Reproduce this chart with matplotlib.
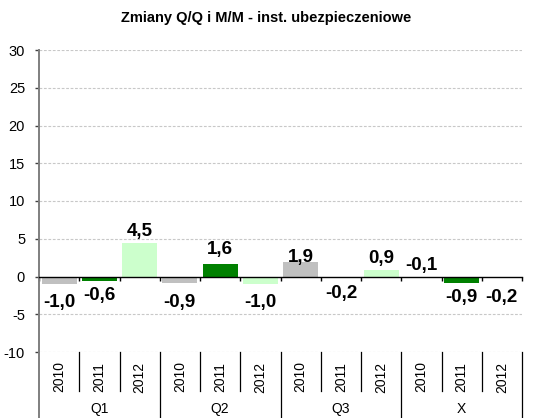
import numpy as np
import matplotlib
matplotlib.use('Agg')
import matplotlib.pyplot as plt
from matplotlib.lines import Line2D

#
#--- chart data
#
groups  = ['Q1', 'Q2', 'Q3', 'X']
years   = ['2010', '2011', '2012']

v2010   = [-1.0, -0.9,  1.9, -0.1]
v2011   = [-0.6,  1.6, -0.2, -0.9]
v2012   = [ 4.5, -1.0,  0.9, -0.2]

yticks  = [-10, -5, 0, 5, 10, 15, 20, 25, 30]

#
#--- layout: where each data label sits (in data units), bar colors
#
lab2010 = [-3.45, -3.45, 2.5,  1.45]
lab2011 = [-2.5,   3.6, -2.25, -2.8]
lab2012 = [ 6.0,  -3.45, 2.4, -2.8]

colors  = ['#C0C0C0', '#008000', '#CCFFCC']

#-------------------------------------------------------------------------------------
#--- fmt: format a value with a decimal comma                                      ---
#-------------------------------------------------------------------------------------

def fmt(v):
    return ('%.1f' % v).replace('.', ',')

#-------------------------------------------------------------------------------------
#--- plot_chart: draw the grouped bar chart                                        ---
#-------------------------------------------------------------------------------------

def plot_chart():
    """
    draw the Q/Q and M/M bar chart and save it as out.png
    """
    plt.rcParams['font.family'] = ['Liberation Sans', 'DejaVu Sans']

    fig = plt.figure(figsize=(5.42, 4.18), dpi=100)
    ax  = fig.add_axes([39/542, 66/418, 483/542, 302/418])

    series = [v2010, v2011, v2012]
    labys  = [lab2010, lab2011, lab2012]
    ng     = len(groups)
    ny     = len(years)
#
#--- bars and data labels
#
    for k in range(ny):
        xpos = [g * ny + k for g in range(ng)]
        ax.bar(xpos, series[k], width=0.87, color=colors[k], zorder=2)
        for x, v, ly in zip(xpos, series[k], labys[k]):
            ax.text(x, ly, fmt(v), ha='center', va='center',
                    fontsize=13.5, fontweight='bold', color='black', zorder=4)
#
#--- axis ranges and grid
#
    ax.set_xlim(-0.5, ng * ny - 0.5)
    ax.set_ylim(-10, 30)
    ax.set_yticks(yticks)
    ax.set_yticklabels([str(t) for t in yticks], fontsize=10.5)
    for t in yticks:
        if t != 0:
            ax.axhline(t, color='#C8C8C8', lw=0.8, ls=(0, (2.5, 1.5)), zorder=1)

    for s in ['top', 'right', 'left']:
        ax.spines[s].set_visible(False)
    ax.spines['bottom'].set_position(('data', 0))
    ax.spines['bottom'].set_color('black')
    ax.spines['bottom'].set_linewidth(1.0)
    ax.spines['bottom'].set_zorder(3)

    bounds = [i - 0.5 for i in range(ng * ny + 1)]
    ax.set_xticks(bounds)
    ax.set_xticklabels([])
    ax.tick_params(axis='x', direction='out', length=3, width=1, color='black')
    ax.tick_params(axis='y', direction='out', length=3, width=1, color='#404040', pad=7)
#
#--- left axis line going down through the category area
#
    ax.add_line(Line2D([0, 0], [1, -66/302], transform=ax.transAxes,
                       color='#7F7F7F', lw=1.4, clip_on=False, zorder=3))
#
#--- category separators and labels below the plot
#
    tr = ax.get_xaxis_transform()
    for i, b in enumerate(bounds):
        if i == 0:
            continue
        if i % ny == 0:
            ybot = -66/302
        else:
            ybot = -39/302
        ax.add_line(Line2D([b, b], [0, ybot], transform=tr, color='black',
                           lw=0.9, clip_on=False))

    for g in range(ng):
        for k in range(ny):
            ax.text(g * ny + k, -25/302, years[k], transform=tr, rotation=90,
                    ha='center', va='center', fontsize=10)
        ax.text(g * ny + 1, -57/302, groups[g], transform=tr,
                ha='center', va='center', fontsize=10)
#
#--- title
#
    fig.text(266/542, 1 - 18/418, 'Zmiany Q/Q i M/M - inst. ubezpieczeniowe',
             ha='center', va='center', fontsize=10.5, fontweight='bold')

    fig.savefig('out.png', dpi=100)

#--------------------------------------------------------------------------------------

if __name__ == '__main__':
    plot_chart()
